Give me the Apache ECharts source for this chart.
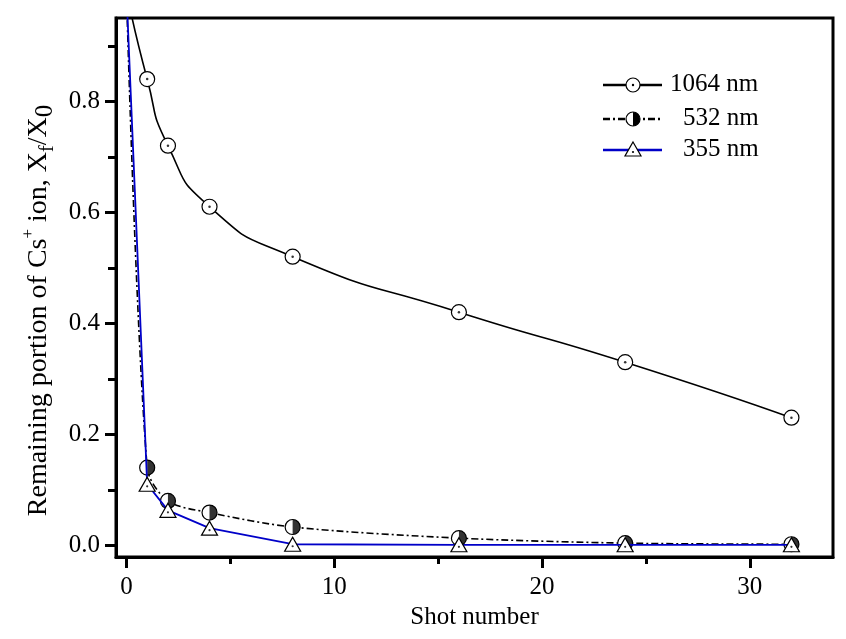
<!DOCTYPE html>
<html>
<head>
<meta charset="utf-8">
<script src="https://cdn.jsdelivr.net/npm/echarts@6/dist/echarts.min.js"></script>
<style>
html,body{margin:0;padding:0;background:#fff;}
#c{width:846px;height:639px;}
</style>
</head>
<body>
<div id="c"></div>
<script>
// ---- data ----
const shots = [0, 1, 2, 4, 8, 16, 24, 32];
const y1064 = [1.0, 0.84, 0.72, 0.61, 0.52, 0.42, 0.33, 0.23];
const y532  = [1.0, 0.14, 0.08, 0.059, 0.033, 0.013, 0.004, 0.002];
const y355  = [1.0, 0.11, 0.063, 0.031, 0.002, 0.001, 0.001, 0.001];
const seriesNames = ['1064 nm', '532 nm', '355 nm'];
const xTicks = [0, 10, 20, 30];
const xMinorTicks = [5, 15, 25];
const yTicks = [0, 0.2, 0.4, 0.6, 0.8];
const yMinorTicks = [0.1, 0.3, 0.5, 0.7, 0.9];

const pts = arr => shots.map((x, i) => [x, arr[i]]);
const FONT = '"Liberation Serif", "Times New Roman", serif';
const BLUE = '#0000c8';
const HALF = 'path://M0,0 A10,10 0 0,1 0,20 Z';

const chart = echarts.init(document.getElementById('c'), null, {renderer: 'canvas'});

const xMin = -0.5, xMax = 34, yMin = -0.021, yMax = 0.95;

const option = {
  backgroundColor: '#fff',
  animation: false,
  grid: {left: 116, right: 13, top: 18, bottom: 82, show: true, borderColor: '#000', borderWidth: 3, backgroundColor: 'transparent'},
  xAxis: [{
    type: 'value', min: xMin, max: xMax, position: 'bottom',
    name: 'Shot number', nameLocation: 'middle', nameGap: 41,
    nameTextStyle: {fontFamily: FONT, fontSize: 25, color: '#000'},
    axisLine: {show: true, onZero: false, lineStyle: {color: '#000', width: 3}},
    axisTick: {show: true, inside: false, length: 11, lineStyle: {color: '#000', width: 3}, customValues: xTicks},
    axisLabel: {show: true, margin: 18, fontFamily: FONT, fontSize: 25, color: '#000', customValues: xTicks, formatter: v => String(v)},
    splitLine: {show: false}
  }, {
    type: 'value', min: xMin, max: xMax, position: 'bottom',
    axisLine: {show: false, onZero: false},
    axisTick: {show: true, inside: false, length: 7, lineStyle: {color: '#000', width: 3}, customValues: xMinorTicks},
    axisLabel: {show: false, customValues: xMinorTicks},
    splitLine: {show: false}
  }],
  yAxis: [{
    type: 'value', min: yMin, max: yMax, position: 'left',
    name: 'Remaining portion of Cs{sup|+} ion, X{sub|f}/X{sub0|0}', nameLocation: 'middle', nameGap: 58,
    nameTextStyle: {
      fontFamily: FONT, fontSize: 28, color: '#000', lineHeight: 38, padding: [0, 46, 0, 0],
      rich: {
        sup: {fontFamily: FONT, fontSize: 17, color: '#000', verticalAlign: 'top', lineHeight: 38},
        sub: {fontFamily: FONT, fontSize: 20, color: '#000', verticalAlign: 'bottom', lineHeight: 38},
        sub0: {fontFamily: FONT, fontSize: 25, color: '#000', verticalAlign: 'bottom', lineHeight: 38}
      }
    },
    axisLine: {show: true, onZero: false, lineStyle: {color: '#000', width: 3}},
    axisTick: {show: true, inside: false, length: 11, lineStyle: {color: '#000', width: 3}, customValues: yTicks},
    axisLabel: {show: true, margin: 16, fontFamily: FONT, fontSize: 25, color: '#000', customValues: yTicks, formatter: v => v.toFixed(1)},
    splitLine: {show: false}
  }, {
    type: 'value', min: yMin, max: yMax, position: 'left',
    axisLine: {show: false, onZero: false},
    axisTick: {show: true, inside: false, length: 8, lineStyle: {color: '#000', width: 3}, customValues: yMinorTicks},
    axisLabel: {show: false, customValues: yMinorTicks},
    splitLine: {show: false}
  }],
  series: [
    {
      name: seriesNames[0], type: 'line', data: pts(y1064), smooth: 0.6, clip: true, z: 2,
      lineStyle: {color: '#000', width: 1.6},
      symbol: 'circle', symbolSize: 15,
      itemStyle: {color: '#fff', borderColor: '#000', borderWidth: 1.2}
    },
    {
      type: 'scatter', data: pts(y1064), clip: true, symbol: 'circle', symbolSize: 2.5, z: 3,
      itemStyle: {color: '#000'}, silent: true
    },
    {
      name: seriesNames[1], type: 'line', data: pts(y532), smooth: 0.3, clip: true, z: 4,
      lineStyle: {color: '#000', width: 1.6, type: [7, 3, 2, 3]},
      symbol: 'circle', symbolSize: 15,
      itemStyle: {color: '#fff', borderColor: '#000', borderWidth: 1.2}
    },
    {
      type: 'scatter', data: pts(y532), clip: true, symbol: HALF, symbolSize: [7.5, 15], symbolOffset: [3.75, 0], z: 5,
      itemStyle: {color: '#000'}, silent: true
    },
    {
      name: seriesNames[2], type: 'line', data: pts(y355), smooth: false, clip: true, z: 6,
      lineStyle: {color: BLUE, width: 1.8},
      symbol: 'triangle', symbolSize: [16, 14],
      itemStyle: {color: '#fff', borderColor: '#000', borderWidth: 1.2}
    },
    {
      type: 'scatter', data: pts(y355), clip: true, symbol: 'circle', symbolSize: 2.2, symbolOffset: [0, 2], z: 7,
      itemStyle: {color: '#000'}, silent: true
    }
  ],
  graphic: [
    // legend row 1
    {type: 'line', shape: {x1: 603, y1: 85, x2: 662, y2: 85}, style: {stroke: '#000', lineWidth: 2.5}},
    {type: 'circle', shape: {cx: 633, cy: 85, r: 7}, style: {fill: '#fff', stroke: '#000', lineWidth: 1.2}},
    {type: 'circle', shape: {cx: 633, cy: 85, r: 1.2}, style: {fill: '#000'}},
    {type: 'text', left: 670, top: 72, style: {text: seriesNames[0], font: '25px ' + FONT, fill: '#000'}},
    // legend row 2
    {type: 'line', shape: {x1: 603, y1: 119, x2: 662, y2: 119}, style: {stroke: '#000', lineWidth: 2.5, lineDash: [7, 3, 2, 3]}},
    {type: 'circle', shape: {cx: 633, cy: 119, r: 7}, style: {fill: '#fff', stroke: '#000', lineWidth: 1.2}},
    {type: 'sector', shape: {cx: 633, cy: 119, r: 7, r0: 0, startAngle: -Math.PI / 2, endAngle: Math.PI / 2}, style: {fill: '#000'}},
    {type: 'text', left: 683, top: 106, style: {text: seriesNames[1], font: '25px ' + FONT, fill: '#000'}},
    // legend row 3
    {type: 'line', shape: {x1: 603, y1: 150, x2: 662, y2: 150}, style: {stroke: BLUE, lineWidth: 2.5}},
    {type: 'polygon', shape: {points: [[633, 142], [641, 156], [625, 156]]}, style: {fill: '#fff', stroke: '#000', lineWidth: 1.2}},
    {type: 'circle', shape: {cx: 633, cy: 152, r: 1.1}, style: {fill: '#000'}},
    {type: 'text', left: 683, top: 137, style: {text: seriesNames[2], font: '25px ' + FONT, fill: '#000'}}
  ]
};
chart.setOption(option);
</script>
</body>
</html>
